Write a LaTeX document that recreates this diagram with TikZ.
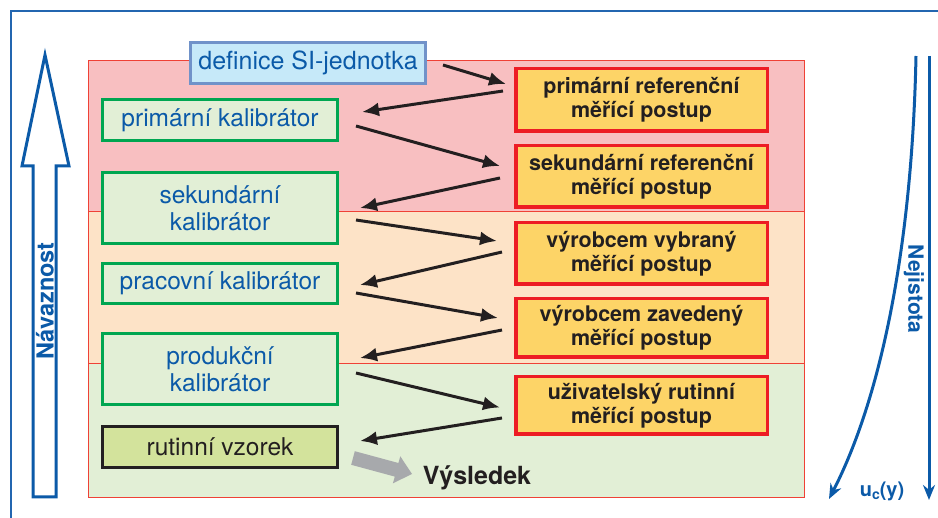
\documentclass[tikz,border=0pt]{standalone}
\usepackage{fontspec}
\setmainfont{TeX Gyre Heros}
\usetikzlibrary{arrows.meta,calc}
\definecolor{cblue}{HTML}{0B5AA8}
\definecolor{cframe}{HTML}{2366B0}
\definecolor{cgreen}{HTML}{00A651}
\definecolor{cgreenfill}{HTML}{E2EFD6}
\definecolor{cred}{HTML}{ED1C24}
\definecolor{cyellow}{HTML}{FDD467}
\definecolor{cpink}{HTML}{F8BFC1}
\definecolor{cpeach}{HTML}{FDE3C7}
\definecolor{cband}{HTML}{EF4136}
\definecolor{cblk}{HTML}{231F20}
\definecolor{cgray}{HTML}{A7A9AC}
\definecolor{crut}{HTML}{D3E39C}
\definecolor{cdefb}{HTML}{7092C9}
\definecolor{cdeff}{HTML}{C6E9F9}
\begin{document}
\begin{tikzpicture}[x=1pt,y=-1pt,
  calib/.style={draw=cgreen, line width=3pt, fill=cgreenfill, minimum width=235pt,
    text=cblue, font=\fontsize{24.5}{27}\selectfont, align=center, inner sep=0pt},
  proc/.style={draw=cred, line width=3.5pt, fill=cyellow, minimum width=251.5pt,
    text=cblk, font=\bfseries\fontsize{21.5}{24}\selectfont, align=center, inner sep=0pt},
  arr/.style={line width=3pt, draw=cblk, -{Latex[length=17pt,width=14pt]}},
  bluearr/.style={line width=3pt, draw=cblue, -{Stealth[length=15pt,width=12pt]}},
  band/.style={draw=cband, line width=0.8pt}]
\useasboundingbox (0,0) rectangle (938,518);
% frame
\draw[cframe, line width=1.5pt] (11,518) -- (11,11) -- (938,11);
% bands
\fill[cpink] (88,60) rectangle (804,211);
\fill[cpeach] (88,211) rectangle (804,363);
\fill[cgreenfill] (88,363) rectangle (804,497);
\draw[band] (88,211) -- (804,211);
\draw[band] (88,363) -- (804,363);
\draw[band] (88,60) rectangle (804,497);
% boxes
\node[draw=cdefb, line width=3pt, fill=cdeff, minimum width=235pt, minimum height=41pt,
  text=cblue, font=\fontsize{25}{27}\selectfont, inner sep=0pt] (def) at (308,63) {definice SI-jednotka};
\node[calib, minimum height=41pt] (pk) at (220,120) {primární kalibrátor};
\node[calib, minimum height=71pt] (sk) at (220,208) {sekundární\\kalibrátor};
\node[calib, minimum height=40pt] (prk) at (220,283.5) {pracovní kalibrátor};
\node[calib, minimum height=71pt] (pdk) at (220,369) {produkční\\kalibrátor};
\node[calib, draw=cblk, fill=crut, text=cblk, minimum height=41pt] (rv) at (220,447) {rutinní vzorek};
\node[proc, minimum height=62.5pt] (prp) at (641.5,100) {primární referenční\\měřící postup};
\node[proc, minimum height=61.5pt] (srp) at (641.5,176.5) {sekundární referenční\\měřící postup};
\node[proc, minimum height=61.5pt] (vvp) at (641.5,253.5) {výrobcem vybraný\\měřící postup};
\node[proc, minimum height=58.5pt] (vzp) at (641.5,328) {výrobcem zavedený\\měřící postup};
\node[proc, minimum height=57.5pt] (urp) at (641.5,405.5) {uživatelský rutinní\\měřící postup};
% arrows
\draw[arr] ($(def.east)+(16,2)$) -- ($(prp.west)+(-8,-16)$);
\draw[arr] ($(prp.west)+(-11,-9)$) -- ($(pk.east)+(23,-8)$);
\draw[arr] ($(pk.east)+(17,6)$) -- ($(srp.west)+(-14,-10.5)$);
\draw[arr] ($(srp.west)+(-14,1.5)$) -- ($(sk.east)+(21,0)$);
\draw[arr] ($(sk.east)+(17,12)$) -- ($(vvp.west)+(-17,-12.5)$);
\draw[arr] ($(vvp.west)+(-12,-1.5)$) -- ($(prk.east)+(21,1.5)$);
\draw[arr] ($(prk.east)+(17,9.5)$) -- ($(vzp.west)+(-16,-10)$);
\draw[arr] ($(vzp.west)+(-12,2)$) -- ($(pdk.east)+(21,-11)$);
\draw[arr] ($(pdk.east)+(17,4)$) -- ($(urp.west)+(-14,2)$);
\draw[arr] ($(urp.west)+(-12,12.5)$) -- ($(rv.east)+(21,-6)$);
% result arrow
\fill[cgray] (351.2,464.8) -- (354.8,451.2) -- (398.4,463.0) -- (400.3,456.3) -- (412,474)
  -- (392.9,483.3) -- (394.8,476.6) -- cycle;
\node[font=\bfseries\fontsize{25}{27}\selectfont, text=cblk] (res) at (477,478) {Výsledek};
% left arrow
\draw[cblue, line width=3pt, fill=white, line join=miter]
  (45,55) -- (69,166) -- (56,166) -- (56,497) -- (33,497) -- (33,166) -- (22,166) -- cycle;
\node[rotate=90, text=cblue, font=\bfseries\fontsize{23.5}{26}\selectfont] (nav) at (45,301) {Návaznost};
% right arrows
\coordinate (t1) at (929,56);
\coordinate (b1) at (929,500);
\coordinate (t2) at (916,56);
\coordinate (b2) at (829,499);
\draw[bluearr] (t1) -- (b1);
\draw[bluearr] (t2) .. controls (912,250) and (880,400) .. (b2);
\node[rotate=-90, text=cblue, font=\bfseries\fontsize{21}{25}\selectfont] (nej) at (914,289) {Nejistota};
\node[text=cblue, font=\bfseries\fontsize{20}{24}\selectfont] (uc) at (882,491) {u\raisebox{-0.35ex}{\fontsize{14}{14}\selectfont c}(y)};
\end{tikzpicture}
\end{document}
